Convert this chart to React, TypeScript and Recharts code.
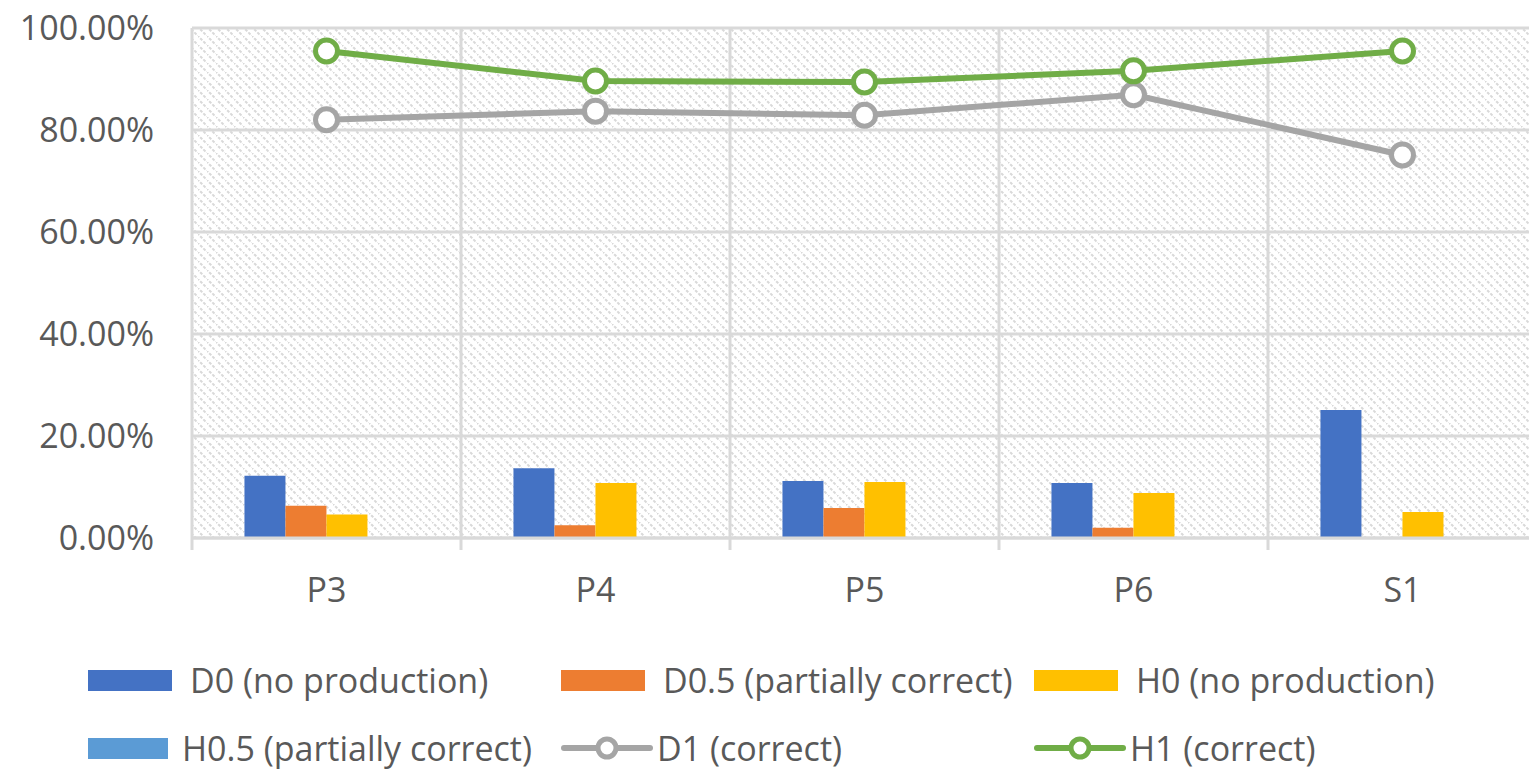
import {
  ComposedChart,
  Bar,
  Line,
  XAxis,
  YAxis,
  CartesianGrid,
  Legend,
} from "recharts";

const categories = ["P3", "P4", "P5", "P6", "S1"];
const d0Values = [12.2, 13.7, 11.2, 10.8, 25.1];
const d05Values = [6.3, 2.5, 5.9, 2.0, 0];
const h0Values = [4.6, 10.8, 11.0, 8.8, 5.1];
const h05Values = [0, 0, 0, 0, 0];
const d1Values = [82.0, 83.7, 82.9, 86.9, 75.1];
const h1Values = [95.5, 89.6, 89.4, 91.6, 95.5];
const yTicks = [0, 20, 40, 60, 80, 100];
const seriesNames = [
  "D0 (no production)",
  "D0.5 (partially correct)",
  "H0 (no production)",
  "H0.5 (partially correct)",
  "D1 (correct)",
  "H1 (correct)",
];

const data = categories.map((cat, i) => ({
  cat,
  d0: d0Values[i],
  d05: d05Values[i],
  h0: h0Values[i],
  h05: h05Values[i],
  d1: d1Values[i],
  h1: h1Values[i],
}));

const FONT = "'Open Sans', sans-serif";
const TEXT = "#595959";
const GRID = "#d9d9d9";

const CHART_W = 1537;
const CHART_H = 771;
const Y_AXIS_W = 192;

// category ticks also mark the boundaries between groups
function XTick(props: any) {
  const { x, y, payload, index } = props;
  const half =
    payload && payload.offset ? payload.offset : (CHART_W - Y_AXIS_W) / categories.length / 2;
  return (
    <g>
      <line x1={x - half} x2={x - half} y1={y} y2={y + 12} stroke={GRID} strokeWidth={3} />
      {index === categories.length - 1 && (
        <line x1={x + half} x2={x + half} y1={y} y2={y + 12} stroke={GRID} strokeWidth={3} />
      )}
      <text
        x={x}
        y={y + 51}
        textAnchor="middle"
        dominantBaseline="central"
        fontFamily={FONT}
        fontSize={34}
        fill={TEXT}
      >
        {payload.value}
      </text>
    </g>
  );
}

function LegendContent({ payload }: any) {
  // keep the series order of the original chart
  const items = [...(payload || [])].sort(
    (a: any, b: any) => seriesNames.indexOf(a.value) - seriesNames.indexOf(b.value)
  );
  return (
    <div
      style={{
        width: 1529,
        height: 136,
        boxSizing: "border-box",
        paddingLeft: 88,
        display: "grid",
        gridTemplateColumns: "473px 473px 473px",
        gridAutoRows: "68px",
        fontFamily: FONT,
        fontSize: 34,
        lineHeight: 1,
        color: TEXT,
      }}
    >
      {items.map((entry: any, i: number) => (
        <div
          key={entry.value}
          style={{ display: "flex", alignItems: "center", whiteSpace: "nowrap" }}
        >
          {entry.type === "line" ? (
            <svg width={92} height={28} style={{ marginRight: 4 }}>
              <line x1={3} x2={89} y1={14} y2={14} stroke={entry.color} strokeWidth={6} strokeLinecap="round" />
              <circle cx={46} cy={14} r={9} fill="#fff" stroke={entry.color} strokeWidth={5} />
            </svg>
          ) : (
            <div
              style={{
                width: i === 3 ? 80 : 84,
                height: 21,
                background: entry.color,
                marginRight: i === 3 ? 14 : 18,
              }}
            />
          )}
          <span>{entry.value}</span>
        </div>
      ))}
    </div>
  );
}

export default function App() {
  return (
    <div
      style={{
        position: "absolute",
        left: 0,
        top: 0,
        width: 1529,
        height: CHART_H,
        overflow: "hidden",
        background: "#fff",
      }}
    >
      <ComposedChart
        width={CHART_W}
        height={CHART_H}
        data={data}
        margin={{ top: 28, right: 0, left: 0, bottom: 37 }}
        barCategoryGap="19.5%"
        barGap={0}
      >
        <defs>
          <pattern id="hatch" width={9} height={9} patternUnits="userSpaceOnUse">
            <line
              x1={-1}
              y1={-1}
              x2={10}
              y2={10}
              stroke="#d9d9d9"
              strokeWidth={2}
              strokeDasharray="3 1.5"
            />
          </pattern>
        </defs>
        <CartesianGrid
          fill="url(#hatch)"
          stroke={GRID}
          strokeWidth={3}
          verticalCoordinatesGenerator={({ offset }: any) =>
            categories
              .concat([""])
              .map((_, i) => offset.left + (i * offset.width) / categories.length)
          }
        />
        <XAxis
          dataKey="cat"
          height={60}
          tickSize={0}
          tickMargin={0}
          tickLine={false}
          axisLine={{ stroke: GRID, strokeWidth: 3 }}
          tick={<XTick />}
          interval={0}
        />
        <YAxis
          width={Y_AXIS_W}
          domain={[0, 100]}
          ticks={yTicks}
          tickSize={0}
          tickMargin={38}
          tickLine={false}
          axisLine={false}
          tickFormatter={(v: number) => `${v.toFixed(2)}%`}
          tick={{ fontFamily: FONT, fontSize: 34, fill: TEXT }}
        />
        <Legend
          verticalAlign="bottom"
          wrapperStyle={{ left: 0, top: 646, width: 1529 }}
          content={<LegendContent />}
        />
        <Bar dataKey="d0" name="D0 (no production)" fill="#4472c4" legendType="rect" isAnimationActive={false} />
        <Bar dataKey="d05" name="D0.5 (partially correct)" fill="#ed7d31" legendType="rect" isAnimationActive={false} />
        <Bar dataKey="h0" name="H0 (no production)" fill="#ffc000" legendType="rect" isAnimationActive={false} />
        <Bar dataKey="h05" name="H0.5 (partially correct)" fill="#5b9bd5" legendType="rect" isAnimationActive={false} />
        <Line
          dataKey="d1"
          name="D1 (correct)"
          stroke="#a5a5a5"
          strokeWidth={6}
          legendType="line"
          dot={{ r: 11, fill: "#fff", stroke: "#a5a5a5", strokeWidth: 5 }}
          isAnimationActive={false}
        />
        <Line
          dataKey="h1"
          name="H1 (correct)"
          stroke="#70ad47"
          strokeWidth={6}
          legendType="line"
          dot={{ r: 11, fill: "#fff", stroke: "#70ad47", strokeWidth: 5 }}
          isAnimationActive={false}
        />
      </ComposedChart>
    </div>
  );
}
